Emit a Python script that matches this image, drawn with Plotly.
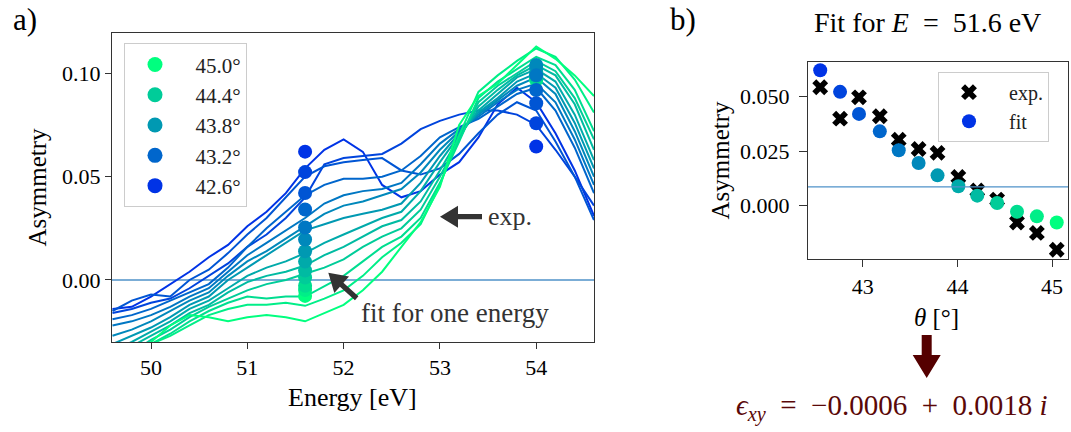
import numpy as np
import plotly.graph_objects as go

W, H = 1071, 432
FONT = "Liberation Serif"

# ---------------- data ----------------
energy_ev = [49.6, 49.8, 50.0, 50.2, 50.4, 50.6, 50.8, 51.0, 51.2, 51.4, 51.6, 51.8, 52.0,
             52.2, 52.4, 52.6, 52.8, 53.0, 53.2, 53.4, 53.6, 53.8, 54.0, 54.2, 54.4, 54.6]

theta_deg = [42.55, 42.76, 42.96, 43.18, 43.38, 43.59, 43.79, 44.01, 44.21, 44.42, 44.63, 44.84, 45.05]

asym_4255 = [-0.014, -0.013, -0.008, -0.002, 0.004, 0.011, 0.017, 0.026, 0.033, 0.042, 0.054, 0.063, 0.068,
             0.062, 0.046, 0.040, 0.043, 0.051, 0.057, 0.069, 0.085, 0.093, 0.086, 0.071, 0.053, 0.031]
asym_4276 = [-0.016, -0.014, -0.011, -0.009, -0.004, 0.002, 0.008, 0.016, 0.022, 0.030, 0.040, 0.056, 0.059,
             0.060, 0.061, 0.066, 0.073, 0.077, 0.080, 0.082, 0.082, 0.080, 0.075, 0.063, 0.050, 0.036]
asym_4296 = [-0.015, -0.010, -0.007, -0.008, 0.000, 0.005, 0.013, 0.022, 0.030, 0.040, 0.050, 0.055, 0.057,
             0.058, 0.059, 0.053, 0.051, 0.054, 0.061, 0.071, 0.080, 0.086, 0.082, 0.067, 0.050, 0.029]
asym_4318 = [-0.019, -0.017, -0.014, -0.010, -0.006, -0.002, 0.006, 0.016, 0.025, 0.033, 0.041, 0.046, 0.049,
             0.049, 0.050, 0.053, 0.060, 0.069, 0.074, 0.078, 0.084, 0.090, 0.093, 0.082, 0.064, 0.042]
asym_4338 = [-0.022, -0.020, -0.017, -0.013, -0.008, -0.004, 0.004, 0.012, 0.018, 0.024, 0.030, 0.037, 0.041,
             0.043, 0.044, 0.047, 0.056, 0.066, 0.073, 0.079, 0.086, 0.092, 0.095, 0.086, 0.068, 0.046]
asym_4359 = [-0.027, -0.024, -0.020, -0.015, -0.010, -0.006, 0.002, 0.009, 0.014, 0.020, 0.026, 0.032, 0.036,
             0.038, 0.041, 0.044, 0.052, 0.063, 0.072, 0.080, 0.087, 0.094, 0.098, 0.090, 0.072, 0.050]
asym_4379 = [-0.031, -0.027, -0.023, -0.018, -0.012, -0.008, 0.000, 0.006, 0.012, 0.018, 0.024, 0.027, 0.030,
             0.032, 0.034, 0.037, 0.047, 0.060, 0.071, 0.081, 0.088, 0.096, 0.100, 0.093, 0.076, 0.054]
asym_4401 = [-0.034, -0.030, -0.025, -0.020, -0.014, -0.010, -0.004, 0.002, 0.006, 0.009, 0.013, 0.018, 0.022,
             0.026, 0.030, 0.033, 0.043, 0.057, 0.070, 0.082, 0.090, 0.098, 0.102, 0.096, 0.080, 0.058]
asym_4421 = [-0.037, -0.032, -0.027, -0.022, -0.016, -0.012, -0.006, -0.001, 0.002, 0.004, 0.007, 0.012, 0.016,
             0.021, 0.026, 0.029, 0.038, 0.053, 0.069, 0.084, 0.092, 0.099, 0.104, 0.099, 0.085, 0.063]
asym_4442 = [-0.040, -0.035, -0.029, -0.024, -0.018, -0.013, -0.009, -0.005, -0.002, 0.000, 0.003, 0.006, 0.010,
             0.016, 0.021, 0.025, 0.034, 0.050, 0.068, 0.086, 0.094, 0.100, 0.106, 0.101, 0.088, 0.068]
asym_4463 = [-0.042, -0.037, -0.031, -0.026, -0.020, -0.015, -0.011, -0.008, -0.009, -0.008, -0.008, -0.003, 0.002,
             0.009, 0.016, 0.021, 0.030, 0.047, 0.067, 0.088, 0.096, 0.102, 0.108, 0.104, 0.092, 0.072]
asym_4484 = [-0.045, -0.039, -0.031, -0.027, -0.022, -0.017, -0.014, -0.012, -0.012, -0.011, -0.0125, -0.009, -0.005,
             0.002, 0.011, 0.018, 0.027, 0.046, 0.070, 0.091, 0.099, 0.106, 0.112, 0.108, 0.097, 0.081]
asym_4505 = [-0.048, -0.040, -0.030, -0.022, -0.017, -0.018, -0.020, -0.018, -0.017, -0.018, -0.020, -0.016, -0.012,
             -0.005, 0.004, 0.016, 0.028, 0.045, 0.075, 0.089, 0.095, 0.104, 0.113, 0.107, 0.099, 0.089]

spectra = [asym_4255, asym_4276, asym_4296, asym_4318, asym_4338, asym_4359, asym_4379,
           asym_4401, asym_4421, asym_4442, asym_4463, asym_4484, asym_4505]

fit_energy_a = 51.6
fit_energy_b = 54.0
exp_at_516 = [0.0543, 0.0399, 0.0497, 0.0410, 0.0303, 0.0260, 0.0242, 0.0132, 0.0070, 0.0028, -0.0077, -0.0125, -0.0202]
fit_at_516 = [0.0621, 0.0522, 0.0421, 0.0341, 0.0254, 0.0196, 0.0139, 0.0089, 0.0046, 0.0012, -0.0028, -0.0049, -0.0077]
fit_at_540 = [0.0646, 0.0758, 0.0855, 0.0919, 0.0990, 0.1040, 0.1024, 0.1008, 0.0992, 0.0985, 0.0975, 0.0970, 0.0968]

legend_idx = [12, 9, 6, 3, 0]
legend_labels = ["45.0°", "44.4°", "43.8°", "43.2°", "42.6°"]

ref_level_b = 0.0086

# ---------------- styling helpers ----------------
def winter(t):
    return "rgb(0,%d,%d)" % (round(255 * t), round(255 * (1 - t / 2)))

n = len(theta_deg)
colors = [winter(0.2 + 0.8 * i / (n - 1)) for i in range(n)]

def px(x):
    return x / W

def py(y):
    return 1 - y / H

def arrow_path(tip, tail, head_len, head_half, shaft_half):
    tip = np.array(tip, float); tail = np.array(tail, float)
    d = tip - tail
    u = d / np.linalg.norm(d)
    nv = np.array([-u[1], u[0]])
    base = tip - u * head_len
    pts = [tip, base + nv * head_half, base + nv * shaft_half, tail + nv * shaft_half,
           tail - nv * shaft_half, base - nv * shaft_half, base - nv * head_half]
    return "M " + " L ".join("%.5f,%.5f" % (px(p[0]), py(p[1])) for p in pts) + " Z"

SP = "\u2002"

fig = go.Figure()

# left panel lines
for i in range(n):
    fig.add_trace(go.Scatter(x=energy_ev, y=spectra[i], mode="lines",
                             line=dict(color=colors[i], width=2), showlegend=False,
                             xaxis="x", yaxis="y", hoverinfo="skip"))

order = list(range(n))[::-1]
fig.add_trace(go.Scatter(x=[fit_energy_a] * n, y=[fit_at_516[i] for i in order], mode="markers",
                         marker=dict(size=14, color=[colors[i] for i in order], line=dict(width=0)),
                         showlegend=False, xaxis="x", yaxis="y"))
fig.add_trace(go.Scatter(x=[fit_energy_b] * n, y=[fit_at_540[i] for i in order], mode="markers",
                         marker=dict(size=14, color=[colors[i] for i in order], line=dict(width=0)),
                         showlegend=False, xaxis="x", yaxis="y"))

for idx, lab in zip(legend_idx, legend_labels):
    fig.add_trace(go.Scatter(x=[None], y=[None], mode="markers", name=SP + lab,
                             marker=dict(size=15, color=colors[idx]), xaxis="x", yaxis="y",
                             legend="legend"))

# right panel
fig.add_trace(go.Scatter(x=theta_deg, y=exp_at_516, mode="markers",
                         marker=dict(symbol="x", size=14, color="black", line=dict(width=0)),
                         showlegend=False, xaxis="x2", yaxis="y2"))
fig.add_trace(go.Scatter(x=theta_deg, y=fit_at_516, mode="markers",
                         marker=dict(size=14, color=colors, line=dict(width=0)),
                         showlegend=False, xaxis="x2", yaxis="y2"))
fig.add_trace(go.Scatter(x=[None], y=[None], mode="markers", name=SP + "exp.",
                         marker=dict(symbol="x", size=14, color="black"), xaxis="x2", yaxis="y2",
                         legend="legend2"))
fig.add_trace(go.Scatter(x=[None], y=[None], mode="markers", name=SP + "fit",
                         marker=dict(size=14, color=colors[0]), xaxis="x2", yaxis="y2",
                         legend="legend2"))

axis_common = dict(showline=True, mirror=True, linecolor="#333", linewidth=1,
                   ticks="outside", tickwidth=1, tickcolor="#333",
                   showgrid=False, zeroline=False,
                   tickfont=dict(family=FONT, size=22, color="black"))

shapes = [
    dict(type="line", xref="x", yref="y", x0=49.595, x1=54.6, y0=0, y1=0,
         line=dict(color="#4f92c9", width=1.3), layer="below"),
    dict(type="line", xref="x2", yref="y2", x0=42.421, x1=45.169, y0=ref_level_b, y1=ref_level_b,
         line=dict(color="#4f92c9", width=1.3), layer="above"),
    dict(type="path", xref="paper", yref="paper",
         path=arrow_path((440, 216.7), (482, 216.7), 18, 11, 2.6),
         fillcolor="#333", line=dict(width=0)),
    dict(type="path", xref="paper", yref="paper",
         path=arrow_path((328.3, 272.7), (356.7, 298.3), 18, 11, 2.6),
         fillcolor="#333", line=dict(width=0)),
    dict(type="path", xref="paper", yref="paper",
         path=arrow_path((926.7, 378), (926.7, 335), 23, 14, 5),
         fillcolor="#550000", line=dict(width=0)),
]

def ann(text, x, y, size, xanchor="center", yanchor="middle", color="black", angle=0):
    return dict(text=text, x=px(x), y=py(y), xref="paper", yref="paper", showarrow=False,
                xanchor=xanchor, yanchor=yanchor, textangle=angle,
                font=dict(family=FONT, size=size, color=color))

annotations = [
    ann("a)", 25, 19, 31),
    ann("b)", 683, 19, 31),
    ann("Asymmetry", 37, 187.5, 25, angle=-90),
    ann("Energy [eV]", 352, 397, 26),
    ann("Asymmetry", 720, 160.5, 25, angle=-90),
    ann("<i>θ</i> [°]", 936, 317, 25),
    ann("Fit for <i>E</i>" + SP + "=" + SP + "51.6 eV", 927, 22, 28),
    ann("exp.", 486, 216.7, 26, xanchor="left", color="#333"),
    ann("fit for one energy", 359, 313, 27, xanchor="left", color="#333"),
    ann("<i>ϵ</i><sub><i>xy</i></sub>" + SP + "=" + SP + "−0.0006" + SP + "+" + SP + "0.0018 <i>i</i>",
        891.5, 407, 29, color="#5a0808"),
]

fig.update_layout(
    width=W, height=H, margin=dict(l=0, r=0, t=0, b=0),
    paper_bgcolor="white", plot_bgcolor="white",
    xaxis=dict(domain=[px(112), px(594)], range=[49.595, 54.6], tickvals=[50, 51, 52, 53, 54],
               anchor="y", ticklen=6, **axis_common),
    yaxis=dict(domain=[py(342), py(33)], range=[-0.030, 0.1195], tickvals=[0, 0.05, 0.10],
               ticktext=["0.00", "0.05", "0.10"], anchor="x", ticklen=6, **axis_common),
    xaxis2=dict(domain=[px(808), px(1068)], range=[42.421, 45.169], tickvals=[43, 44, 45],
                anchor="y2", ticklen=7, **axis_common),
    yaxis2=dict(domain=[py(259.3), py(62)], range=[-0.0246, 0.0659], tickvals=[0, 0.025, 0.05],
                ticktext=["0.000", "0.025", "0.050"], anchor="x2", ticklen=8,
                ticklabelstandoff=5, **axis_common),
    legend=dict(x=px(124), y=py(43.3), xanchor="left", yanchor="top", bgcolor="rgba(255,255,255,0.85)",
                bordercolor="#cccccc", borderwidth=1, itemwidth=50,
                font=dict(family=FONT, size=21, color="#222")),
    legend2=dict(x=px(938), y=py(71.7), xanchor="left", yanchor="top", bgcolor="rgba(255,255,255,0.85)",
                 bordercolor="#cccccc", borderwidth=1, itemwidth=50,
                 font=dict(family=FONT, size=20, color="#222")),
    shapes=shapes, annotations=annotations, showlegend=True,
)

fig.write_html("out.html")
